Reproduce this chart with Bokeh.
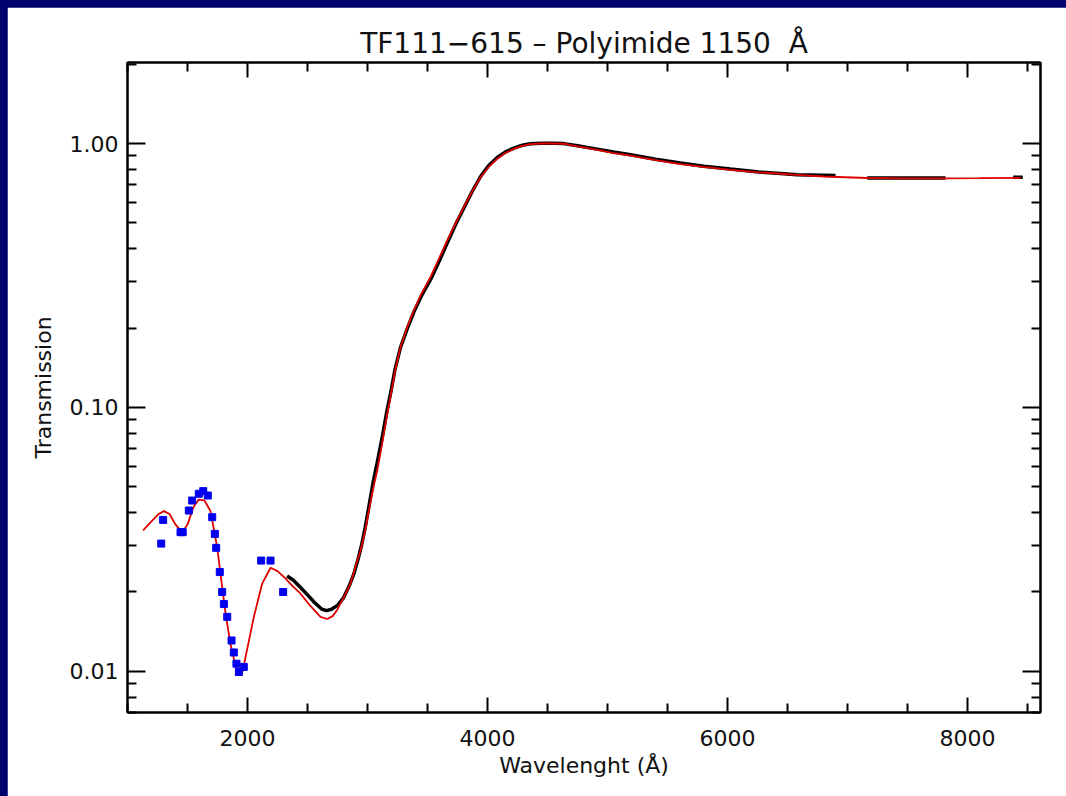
from bokeh.plotting import figure
from bokeh.models import (FixedTicker, LinearAxis, LogAxis,
                          PrintfTickFormatter, Range1d, GlobalInlineStyleSheet)
from bokeh.embed import file_html
from bokeh.resources import INLINE

# ---------------- data ----------------
model_wl = [1130, 1200, 1260, 1303, 1350, 1400, 1456, 1500, 1550, 1594, 1640, 1692,
            1747, 1775, 1817, 1858, 1900, 1928, 1960, 1983, 2053, 2122, 2192, 2250,
            2303, 2370, 2442, 2520, 2608, 2664, 2710, 2747, 2800, 2858, 2900, 2942,
            2980, 3011, 3050, 3081, 3120, 3160, 3192, 3230, 3275, 3330, 3386, 3450,
            3525, 3600, 3664, 3740, 3803, 3870, 3942, 4010, 4081, 4150, 4219, 4290,
            4358, 4450, 4550, 4636, 4750, 4914, 5050, 5192, 5400, 5608, 5800, 6025,
            6261, 6442, 6581, 6800, 7164, 7500, 7817, 8100, 8442]
model_tr = [0.0342, 0.0370, 0.0395, 0.0405, 0.0395, 0.0360, 0.0337, 0.0360, 0.0420,
            0.0448, 0.0445, 0.0405, 0.0296, 0.0234, 0.0166, 0.0127, 0.0105, 0.0097,
            0.0100, 0.0113, 0.0161, 0.0215, 0.0247, 0.0240, 0.0228, 0.0212, 0.0197,
            0.0178, 0.0161, 0.0158, 0.0162, 0.0171, 0.0190, 0.0215, 0.0250, 0.0287,
            0.0340, 0.0407, 0.0500, 0.0577, 0.0720, 0.0920, 0.1100, 0.1380, 0.1690,
            0.2010, 0.2330, 0.2700, 0.3120, 0.3700, 0.4290, 0.5050, 0.5740, 0.6550,
            0.7450, 0.8150, 0.8750, 0.9200, 0.9540, 0.9800, 0.9950, 1.0000, 1.0000,
            0.9980, 0.9750, 0.9450, 0.9200, 0.9000, 0.8650, 0.8360, 0.8150, 0.7950,
            0.7780, 0.7680, 0.7600, 0.7500, 0.7400, 0.7380, 0.7380, 0.7390, 0.7410]

nan = float("nan")
meas_wl = [2330, 2380, 2442, 2500, 2560, 2620, 2660, 2700, 2750, 2800, 2850, 2886,
           2920, 2950, 2980, 3011, 3050, 3081, 3120, 3160, 3192, 3230, 3275, 3330,
           3386, 3450, 3525, 3600, 3664, 3740, 3803, 3870, 3942, 4010, 4081, 4150,
           4219, 4290, 4358, 4450, 4550, 4636, 4750, 4914, 5050, 5192, 5400, 5608,
           5800, 6025, 6261, 6442, 6581, 6900, 7000, 7164, 7500, 7817, 8000, 8380, 8460]
meas_tr = [0.0230, 0.0222, 0.0208, 0.0195, 0.0182, 0.0172, 0.0170, 0.0172, 0.0178,
           0.0190, 0.0212, 0.0234, 0.0265, 0.0300, 0.0350, 0.0420, 0.0530, 0.0620,
           0.0760, 0.0960, 0.1130, 0.1400, 0.1690, 0.1980, 0.2300, 0.2650, 0.3050,
           0.3600, 0.4200, 0.5000, 0.5700, 0.6550, 0.7500, 0.8250, 0.8850, 0.9300,
           0.9600, 0.9850, 0.9980, 1.0020, 1.0020, 0.9990, 0.9800, 0.9520, 0.9280,
           0.9060, 0.8720, 0.8430, 0.8200, 0.8000, 0.7800, 0.7700, 0.7620, 0.7560,
           nan, 0.7400, 0.7400, 0.7400, nan, 0.7450, 0.7450]

uv_wl = [1281, 1297, 1442, 1460, 1511, 1539, 1594, 1631, 1669, 1706, 1728, 1739,
         1769, 1789, 1803, 1831, 1867, 1886, 1908, 1928, 1969, 2114, 2192, 2297]
uv_tr = [0.0305, 0.0375, 0.0337, 0.0337, 0.0407, 0.0444, 0.0471, 0.0482, 0.0464,
         0.0384, 0.0332, 0.0294, 0.0238, 0.0200, 0.0180, 0.0161, 0.0131, 0.0118,
         0.0107, 0.00995, 0.0104, 0.0263, 0.0263, 0.0200]

x_major = [2000, 4000, 6000, 8000]
x_minor = [1000, 1500, 2500, 3000, 3500, 4500, 5000, 5500, 6500, 7000, 7500, 8500]
y_major = [0.01, 0.1, 1.0]
y_minor = [0.007, 0.008, 0.009, 0.02, 0.03, 0.04, 0.05, 0.06, 0.07, 0.08, 0.09,
           0.2, 0.3, 0.4, 0.5, 0.6, 0.7, 0.8, 0.9, 2.0]

title_text = "TF111\u2212615 \u2013 Polyimide 1150 \u00a0\u00c5"
x_label = "Wavelenght (\u00c5)"
y_label = "Transmission"

# ---------------- figure ----------------
FONT = "DejaVu Sans"
p = figure(width=1059, height=789, output_backend="svg", toolbar_location=None,
           y_axis_type="log", x_range=Range1d(1000, 8608), y_range=Range1d(0.00699, 2.027),
           frame_width=913, frame_height=650,
           min_border_left=120, min_border_right=26, min_border_top=55, min_border_bottom=84,
           x_axis_label=x_label, y_axis_label=y_label, title=title_text)
p.stylesheets = [GlobalInlineStyleSheet(
    css="html, body { background-color: #00006e; overflow: hidden; } "
        "body { padding: 7px 0 0 7px !important; }")]
p.border_fill_color = "white"
p.background_fill_color = "white"
p.outline_line_color = "black"
p.outline_line_width = 2
p.grid.visible = False

p.title.align = "center"
p.title.text_font = FONT
p.title.text_font_size = "28px"
p.title.text_font_style = "normal"
p.title.text_color = "#111111"
p.title.standoff = 6

xt = FixedTicker(ticks=x_major, minor_ticks=x_minor)
yt = FixedTicker(ticks=y_major, minor_ticks=y_minor)

def style(ax, show_labels):
    ax.axis_line_color = "black"
    ax.axis_line_width = 2
    ax.major_tick_line_width = 2
    ax.minor_tick_line_width = 2
    ax.major_tick_out = 0
    ax.minor_tick_out = 0
    ax.minor_tick_in = 9
    ax.major_label_text_font = FONT
    ax.axis_label_text_font = FONT
    ax.axis_label_text_font_style = "normal"
    ax.axis_label_text_color = "#111111"
    if not show_labels:
        ax.major_label_text_font_size = "2px"
        ax.major_label_text_color = None
        ax.major_label_standoff = 0
    else:
        ax.major_label_text_color = "#111111"
        ax.major_label_text_font_size = "22px"
        ax.axis_label_text_font_size = "22px"

xa = p.xaxis[0]
xa.ticker = xt
style(xa, True)
xa.major_tick_in = 15
xa.major_label_standoff = 17
xa.axis_label_standoff = 4

ya = p.yaxis[0]
ya.ticker = yt
ya.formatter = PrintfTickFormatter(format="%.2f")
style(ya, True)
ya.major_tick_in = 18
ya.major_label_standoff = 9
ya.axis_label_standoff = 11

top = LinearAxis(ticker=xt)
style(top, False)
top.major_tick_in = 15
p.add_layout(top, "above")

right = LogAxis(ticker=yt)
style(right, False)
right.major_tick_in = 18
p.add_layout(right, "right")

# ---------------- glyphs ----------------
p.line(meas_wl, meas_tr, line_color="black", line_width=3.5)
p.line(model_wl, model_tr, line_color="#e00000", line_width=1.8)
p.scatter(uv_wl, uv_tr, marker="square", size=7, fill_color="#0000ee",
          line_color="#0000ee")

open("out.html", "w").write(file_html(p, INLINE))
